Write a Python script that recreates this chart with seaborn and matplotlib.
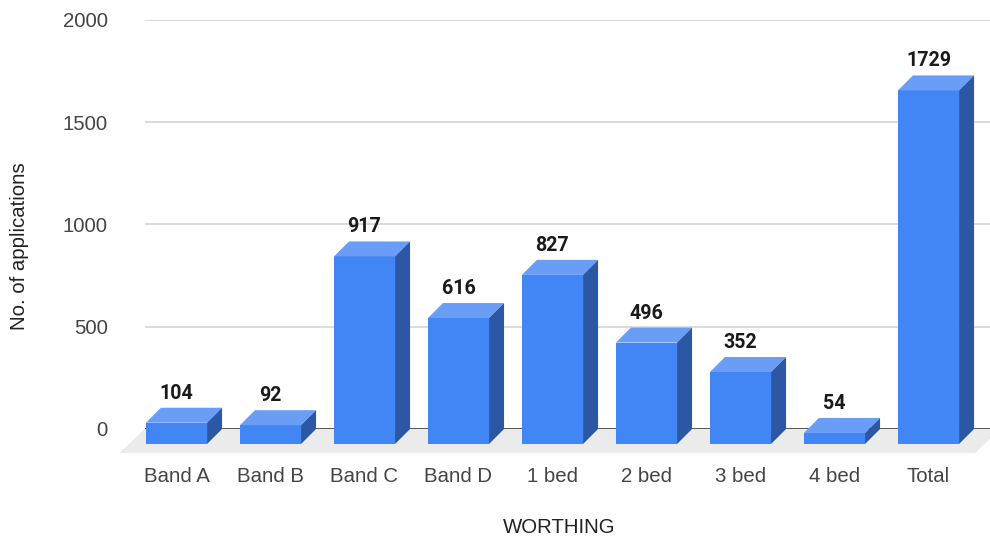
import numpy as np
import pandas as pd
import matplotlib
matplotlib.use("Agg")
import matplotlib.pyplot as plt
import seaborn as sns
from matplotlib.patches import Polygon

# Applications per band / bedroom size
categories = ["Band A", "Band B", "Band C", "Band D", "1 bed", "2 bed", "3 bed", "4 bed", "Total"]
applications = [104, 92, 917, 616, 827, 496, 352, 54, 1729]
y_ticks = [0, 500, 1000, 1500, 2000]
x_title = "WORTHING"
y_title = "No. of applications"

FRONT = "#4285F4"
TOP = "#6A9EF6"
SIDE = "#2B57A5"
FLOOR = "#EBEBEB"
GRID = "#D2D2D2"
ZERO = "#333333"
TICK_COLOR = "#444444"

W, H, DPI = 990, 540, 100
sns.set_theme(style="white")
plt.rcParams["font.family"] = ["Liberation Sans", "DejaVu Sans"]
FS = 14.7  # ~20.5 px

fig = plt.figure(figsize=(W / DPI, H / DPI), dpi=DPI)
fig.patch.set_facecolor("white")

# back wall of the plot area, in pixels
left, right, top, bottom = 144.5, 990.5, 20, 429
ax = fig.add_axes([left / W, 1 - bottom / H, (right - left) / W, (bottom - top) / H])
ax.set_facecolor("none")

df = pd.DataFrame({"category": categories, "applications": applications})
sns.barplot(data=df, x="category", y="applications", color=FRONT, width=0.65,
            saturation=1, ax=ax, zorder=4, linewidth=0)

n = len(categories)
ax.set_xlim(-0.5, n - 0.5)
ax.set_ylim(y_ticks[0], y_ticks[-1])

# pixel -> data unit conversions
px_x = (right - left) / n
px_y = (bottom - top) / (y_ticks[-1] - y_ticks[0])
dxd = 15 / px_x          # bar depth
dyd = 15 / px_y
fdx = 25 / px_x          # floor depth
fdy = 24 / px_y

# floor
x_far = -0.5 + (1000 - left) / px_x
floor = Polygon([(-0.5, 0), (x_far, 0), (x_far - fdx, -fdy), (-0.5 - fdx, -fdy)],
                closed=True, facecolor=FLOOR, edgecolor="none", zorder=1, clip_on=False)
ax.add_patch(floor)

# grid and baseline
ax.yaxis.grid(True, color=GRID, linewidth=1.1, zorder=0)
ax.xaxis.grid(False)
ax.set_axisbelow(True)
ax.axhline(0, color=ZERO, linewidth=1.1, zorder=2)

# 3D extrusion of the bars
bars = [p for p in ax.patches if p is not floor]
for p in bars:
    x0, w, h = p.get_x(), p.get_width(), p.get_height()
    p.set_x(x0 - dxd)
    p.set_y(-dyd)
    p.set_clip_on(False)
    p.set_zorder(4)
    top_face = Polygon([(x0 - dxd, h - dyd), (x0 - dxd + w, h - dyd), (x0 + w, h), (x0, h)],
                       closed=True, facecolor=TOP, edgecolor="none", zorder=4, clip_on=False)
    side_face = Polygon([(x0 - dxd + w, -dyd), (x0 + w, 0), (x0 + w, h), (x0 - dxd + w, h - dyd)],
                        closed=True, facecolor=SIDE, edgecolor="none", zorder=4, clip_on=False)
    ax.add_patch(top_face)
    ax.add_patch(side_face)

# value labels
for i, v in enumerate(applications):
    ax.annotate(f"{v}", xy=(i - dxd, v), xytext=(0, 9 * 0.72), textcoords="offset points",
                ha="center", va="baseline", fontsize=14.1, fontweight="bold",
                family=["Roboto", "DejaVu Sans"], color="#1a1a1a", zorder=6,
                annotation_clip=False)

# axes text
for s in ax.spines.values():
    s.set_visible(False)
ax.set_yticks(y_ticks)
ax.set_yticklabels([str(t) for t in y_ticks])
ax.tick_params(axis="y", length=0, pad=26.6, labelsize=FS, labelcolor=TICK_COLOR)
ax.set_xticks([])
ax.set_xlabel("")
ax.set_ylabel("")

import matplotlib.transforms as mtransforms
xlab_tr = mtransforms.blended_transform_factory(ax.transData, fig.transFigure)
for i, c in enumerate(categories):
    ax.text(i - dxd, 1 - 481.7 / H, c, transform=xlab_tr, ha="center", va="baseline",
            fontsize=FS, color=TICK_COLOR)

fig.text(559 / W, 1 - 533 / H, x_title, ha="center", va="baseline", fontsize=FS, color="#222222")
fig.text(19.5 / W, 1 - 246 / H, y_title, rotation=90, ha="center", va="center",
         fontsize=FS, color="#222222")

fig.savefig("out.png", dpi=DPI)
